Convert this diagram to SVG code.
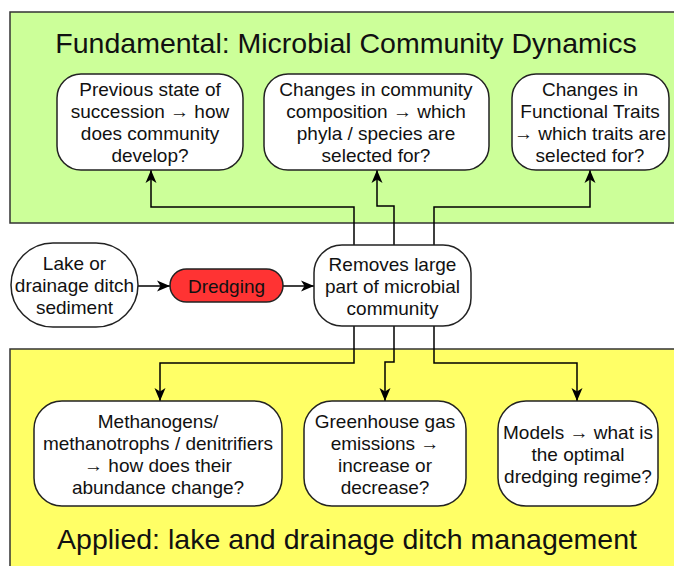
<svg xmlns="http://www.w3.org/2000/svg" width="674" height="566" viewBox="0 0 674 566">
<style>
text{font-family:"Liberation Sans",Arial,sans-serif;fill:#111;}
.t{font-size:19px;text-anchor:middle;}
.h{font-size:28.5px;text-anchor:middle;}
.panel{stroke:#333;stroke-width:1.5;}
.node{fill:#fff;stroke:#222;stroke-width:1.5;}
.edge{fill:none;stroke:#000;stroke-width:1.5;}
</style>
<defs>
<marker id="ah" markerUnits="userSpaceOnUse" markerWidth="14" markerHeight="14" viewBox="0 0 14 14" refX="13" refY="7" orient="auto">
<path d="M0,1.5 L13,7 L0,12.5 L3.5,7 z" fill="#000"/>
</marker>
</defs>
<g id="panel-fundamental">
<rect class="panel" x="10" y="12" width="680" height="211" fill="#ccff99"/>
<text class="h" x="346" y="53">Fundamental: Microbial Community Dynamics</text>
</g>
<g id="panel-applied">
<rect class="panel" x="10" y="349" width="680" height="230" fill="#ffff66"/>
<text class="h" x="347" y="549">Applied: lake and drainage ditch management</text>
</g>
<g id="connectors">
<path class="edge" d="M354,245 V207 H151 V170" marker-end="url(#ah)"/>
<path class="edge" d="M394,245 V206 H377 V170" marker-end="url(#ah)"/>
<path class="edge" d="M434,245 V207 H590 V170" marker-end="url(#ah)"/>
<path class="edge" d="M354,326 V363 H160 V401" marker-end="url(#ah)"/>
<path class="edge" d="M394,326 V362 H385 V401" marker-end="url(#ah)"/>
<path class="edge" d="M434,326 V363 H577 V401" marker-end="url(#ah)"/>
<path class="edge" d="M138,286 H170" marker-end="url(#ah)"/>
<path class="edge" d="M283,286 H314" marker-end="url(#ah)"/>
</g>
<g id="n-previous">
<rect class="node" x="57" y="74" width="186" height="96" rx="24"/>
<text class="t" x="150" y="96">Previous state of</text>
<text class="t" x="150" y="118">succession → how</text>
<text class="t" x="150" y="140">does community</text>
<text class="t" x="150" y="162">develop?</text>
</g>
<g id="n-composition">
<rect class="node" x="264" y="74" width="225" height="96" rx="24"/>
<text class="t" x="376" y="96">Changes in community</text>
<text class="t" x="376" y="118">composition → which</text>
<text class="t" x="376" y="140">phyla / species are</text>
<text class="t" x="376" y="162">selected for?</text>
</g>
<g id="n-traits">
<rect class="node" x="512" y="74" width="157" height="96" rx="24"/>
<text class="t" x="590" y="96">Changes in</text>
<text class="t" x="590" y="118">Functional Traits</text>
<text class="t" x="590" y="140">→ which traits are</text>
<text class="t" x="590" y="162">selected for?</text>
</g>
<g id="n-lake">
<rect class="node" x="11" y="243" width="127" height="84" rx="42"/>
<text class="t" x="74.5" y="270">Lake or</text>
<text class="t" x="74.5" y="292">drainage ditch</text>
<text class="t" x="74.5" y="314">sediment</text>
</g>
<g id="n-dredging">
<rect x="170" y="269" width="113" height="33" rx="16.5" fill="#ff3333" stroke="#222" stroke-width="1.5"/>
<text class="t" x="226.5" y="292.5">Dredging</text>
</g>
<g id="n-removes">
<rect class="node" x="314" y="245" width="157" height="81" rx="28"/>
<text class="t" x="392.5" y="271">Removes large</text>
<text class="t" x="392.5" y="293">part of microbial</text>
<text class="t" x="392.5" y="315">community</text>
</g>
<g id="n-methanogens">
<rect class="node" x="34" y="401" width="248" height="105" rx="28"/>
<text class="t" x="158" y="428">Methanogens/</text>
<text class="t" x="158" y="450">methanotrophs / denitrifiers</text>
<text class="t" x="158" y="472">→ how does their</text>
<text class="t" x="158" y="494">abundance change?</text>
</g>
<g id="n-ghg">
<rect class="node" x="304" y="401" width="162" height="105" rx="28"/>
<text class="t" x="385" y="428">Greenhouse gas</text>
<text class="t" x="385" y="450">emissions →</text>
<text class="t" x="385" y="472">increase or</text>
<text class="t" x="385" y="494">decrease?</text>
</g>
<g id="n-models">
<rect class="node" x="498" y="401" width="160" height="105" rx="28"/>
<text class="t" x="578" y="439">Models → what is</text>
<text class="t" x="578" y="461">the optimal</text>
<text class="t" x="578" y="483">dredging regime?</text>
</g>
</svg>
